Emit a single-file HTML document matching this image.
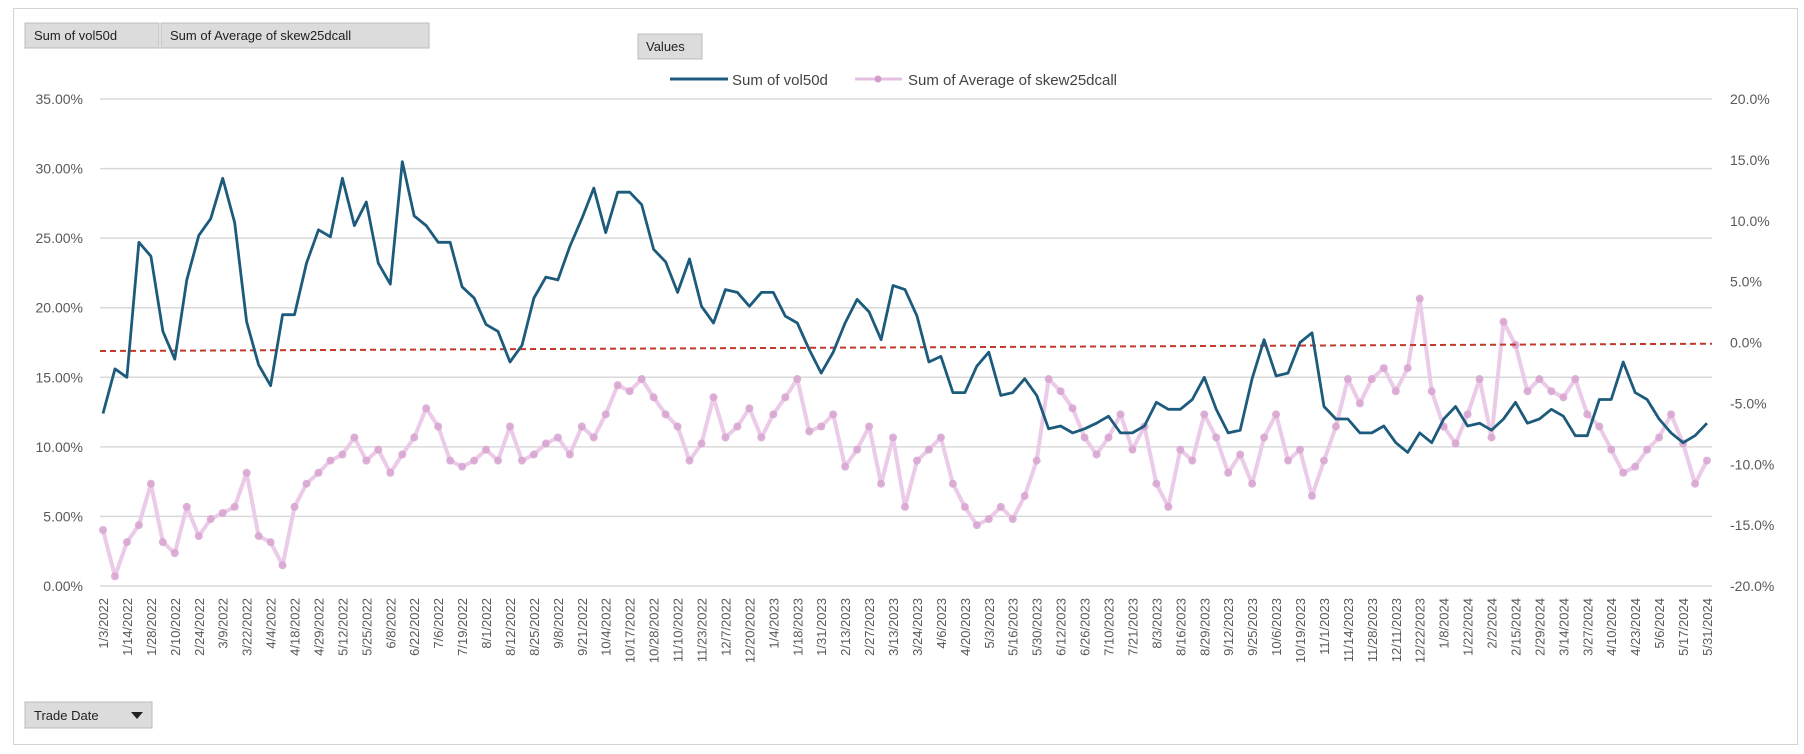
<!DOCTYPE html>
<html><head><meta charset="utf-8"><style>
html,body{margin:0;padding:0;background:#fff;}
body{width:1804px;height:749px;overflow:hidden;font-family:"Liberation Sans",sans-serif;}
svg text{font-family:"Liberation Sans",sans-serif;}
</style></head><body>
<svg id="chart" width="1804" height="749" xmlns="http://www.w3.org/2000/svg">
<rect x="13.5" y="8.5" width="1784" height="736" fill="#fff" stroke="#d4d4d4"/>
<g><rect x="25" y="23" width="134" height="25" fill="#dcdcdc" stroke="#bdbdbd"/><text x="34" y="40" font-size="13" fill="#222">Sum of vol50d</text></g>
<g><rect x="161" y="23" width="268" height="25" fill="#dcdcdc" stroke="#bdbdbd"/><text x="170" y="40" font-size="13" fill="#222">Sum of Average of skew25dcall</text></g>
<g><rect x="638" y="34" width="64" height="25" fill="#dcdcdc" stroke="#bdbdbd"/><text x="646" y="51" font-size="13" fill="#222">Values</text></g>
<g><line x1="670" y1="79" x2="728" y2="79" stroke="#1d5b7c" stroke-width="3"/><text x="732" y="85" font-size="15" fill="#444">Sum of vol50d</text></g>
<g><line x1="855" y1="79" x2="902" y2="79" stroke="#e6c0e2" stroke-width="3"/><circle cx="878" cy="79" r="3.5" fill="#d49ccd"/><text x="908" y="85" font-size="15" fill="#444">Sum of Average of skew25dcall</text></g>
<g><rect x="25" y="702" width="127" height="26" fill="#dcdcdc" stroke="#bdbdbd"/><text x="34" y="720" font-size="13" fill="#222">Trade Date</text><path d="M131 712 L143 712 L137 719 Z" fill="#222"/></g>
<g id="grid"></g><g id="axes"></g><g id="series"></g>
</svg>
<script>
const dateLabels=["1/3/2022","1/14/2022","1/28/2022","2/10/2022","2/24/2022","3/9/2022","3/22/2022","4/4/2022","4/18/2022","4/29/2022","5/12/2022","5/25/2022","6/8/2022","6/22/2022","7/6/2022","7/19/2022","8/1/2022","8/12/2022","8/25/2022","9/8/2022","9/21/2022","10/4/2022","10/17/2022","10/28/2022","11/10/2022","11/23/2022","12/7/2022","12/20/2022","1/4/2023","1/18/2023","1/31/2023","2/13/2023","2/27/2023","3/13/2023","3/24/2023","4/6/2023","4/20/2023","5/3/2023","5/16/2023","5/30/2023","6/12/2023","6/26/2023","7/10/2023","7/21/2023","8/3/2023","8/16/2023","8/29/2023","9/12/2023","9/25/2023","10/6/2023","10/19/2023","11/1/2023","11/14/2023","11/28/2023","12/11/2023","12/22/2023","1/8/2024","1/22/2024","2/2/2024","2/15/2024","2/29/2024","3/14/2024","3/27/2024","4/10/2024","4/23/2024","5/6/2024","5/17/2024","5/31/2024"];
const leftTicks=[0,5,10,15,20,25,30,35];
const rightTicks=[-20,-15,-10,-5,0,5,10,15,20];
const vol50d=[12.4,15.6,15,24.7,23.7,18.3,16.3,22,25.2,26.4,29.3,26.1,19,15.9,14.4,19.5,19.5,23.2,25.6,25.1,29.3,25.9,27.6,23.2,21.7,30.5,26.6,25.9,24.7,24.7,21.5,20.7,18.8,18.3,16.1,17.3,20.7,22.2,22,24.4,26.4,28.6,25.4,28.3,28.3,27.4,24.2,23.3,21.1,23.5,20.1,18.9,21.3,21.1,20.1,21.1,21.1,19.4,18.9,17,15.3,16.8,18.9,20.6,19.7,17.7,21.6,21.3,19.4,16.1,16.5,13.9,13.9,15.8,16.8,13.7,13.9,14.9,13.7,11.3,11.5,11,11.3,11.7,12.2,11,11,11.5,13.2,12.7,12.7,13.4,15,12.7,11,11.2,14.9,17.7,15.1,15.3,17.5,18.2,12.9,12,12,11,11,11.5,10.3,9.6,11,10.3,12,12.9,11.5,11.7,11.2,12,13.2,11.7,12,12.7,12.2,10.8,10.8,13.4,13.4,16.1,13.9,13.4,12,11,10.3,10.8,11.7];
const skew25dcall=[-15.4,-19.2,-16.4,-15,-11.6,-16.4,-17.3,-13.5,-15.9,-14.5,-14,-13.5,-10.7,-15.9,-16.4,-18.3,-13.5,-11.6,-10.7,-9.7,-9.2,-7.8,-9.7,-8.8,-10.7,-9.2,-7.8,-5.4,-6.9,-9.7,-10.2,-9.7,-8.8,-9.7,-6.9,-9.7,-9.2,-8.3,-7.8,-9.2,-6.9,-7.8,-5.9,-3.5,-4,-3,-4.5,-5.9,-6.9,-9.7,-8.3,-4.5,-7.8,-6.9,-5.4,-7.8,-5.9,-4.5,-3,-7.3,-6.9,-5.9,-10.2,-8.8,-6.9,-11.6,-7.8,-13.5,-9.7,-8.8,-7.8,-11.6,-13.5,-15,-14.5,-13.5,-14.5,-12.6,-9.7,-3,-4,-5.4,-7.8,-9.2,-7.8,-5.9,-8.8,-6.9,-11.6,-13.5,-8.8,-9.7,-5.9,-7.8,-10.7,-9.2,-11.6,-7.8,-5.9,-9.7,-8.8,-12.6,-9.7,-6.9,-3,-5,-3,-2.1,-4,-2.1,3.6,-4,-6.9,-8.3,-5.9,-3,-7.8,1.7,-0.2,-4,-3,-4,-4.5,-3,-5.9,-6.9,-8.8,-10.7,-10.2,-8.8,-7.8,-5.9,-8.3,-11.6,-9.7];
const refLine=[-0.7,-0.1];

const NS="http://www.w3.org/2000/svg";
const X0=103,X1=1707,PL=100,PR=1712;
const perLabel=2;
const nPts=(dateLabels.length-1)*perLabel+1;
function xAt(i){return X0+(X1-X0)*i/(nPts-1);}
function xLabel(j){return X0+(X1-X0)*j/(dateLabels.length-1);}
function yL(v){return 586-(v-0)*(586-99)/35;}
function yR(v){return 586-(v+20)*(586-99)/40;}
function mk(tag,attrs,parent){const e=document.createElementNS(NS,tag);for(const k in attrs)e.setAttribute(k,attrs[k]);parent.appendChild(e);return e;}
const grid=document.getElementById('grid'),axes=document.getElementById('axes'),ser=document.getElementById('series');
leftTicks.forEach(t=>{
  const l=mk('line',{x1:PL,x2:PR,y1:yL(t),y2:yL(t),stroke:'#d9d9d9','stroke-width':1.5},grid);
  
  
  const tx=mk('text',{x:83,y:yL(t)+5,'text-anchor':'end','font-size':14,fill:'#595959'},axes);
  tx.textContent=t.toFixed(2)+'%';
  
  
});
rightTicks.forEach(t=>{
  const tx=mk('text',{x:1730,y:yR(t)+5,'font-size':14,fill:'#595959'},axes);
  tx.textContent=t.toFixed(1)+'%';
  
  
});
dateLabels.forEach((d,j)=>{
  const x=xLabel(j)+5;
  const tx=mk('text',{x:x,y:598,'text-anchor':'end','font-size':13,fill:'#595959',transform:'rotate(-90 '+x+' 598)'},axes);
  tx.textContent=d;
  
  
});
let pd='';skew25dcall.forEach((v,i)=>{pd+=(i?'L':'M')+xAt(i).toFixed(1)+' '+yR(v).toFixed(1);});
const sp=mk('path',{d:pd,fill:'none',stroke:'#ebcbe7','stroke-width':4,'stroke-linejoin':'round'},ser);


skew25dcall.forEach((v,i)=>{
  const c=mk('circle',{cx:xAt(i),cy:yR(v),r:4,fill:'#d7a3d0','fill-opacity':0.85},ser);
  
  
});
const r=mk('line',{x1:PL,x2:PR,y1:yR(refLine[0]),y2:yR(refLine[1]),stroke:'#c0392b','stroke-width':2,'stroke-dasharray':'6 4'},ser);


let vd='';vol50d.forEach((v,i)=>{vd+=(i?'L':'M')+xAt(i).toFixed(1)+' '+yL(v).toFixed(1);});
const vp=mk('path',{d:vd,fill:'none',stroke:'#1d5b7c','stroke-width':2.8,'stroke-linejoin':'round'},ser);


</script>
</body></html>
